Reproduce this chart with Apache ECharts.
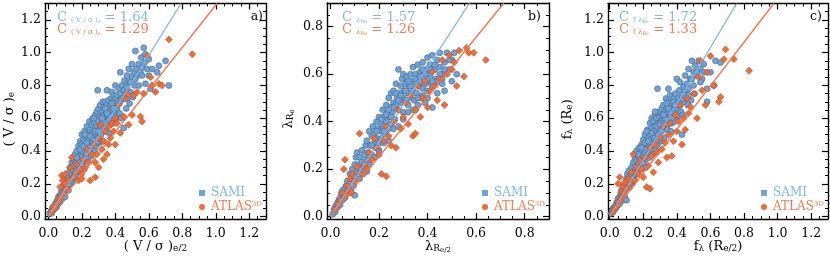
<!DOCTYPE html>
<html><head><meta charset="utf-8">
<script src="https://cdn.jsdelivr.net/npm/echarts@6/dist/echarts.min.js"></script>
<style>html,body{margin:0;padding:0;background:#fff}#c{width:830px;height:258px}</style>
</head><body><div id="c"></div>
<script>
// ---------- DATA ----------
const samiA = [[0.01,0.02],[0.015,0.03],[0.02,0.04],[0.02,0.02],[0.025,0.05],[0.03,0.04],[0.03,0.06],[0.035,0.05],[0.04,0.07],[0.04,0.05],[0.045,0.08],[0.05,0.06],[0.05,0.09],[0.055,0.1],[0.06,0.08],[0.06,0.12],[0.065,0.1],[0.07,0.13],[0.07,0.09],[0.075,0.14],[0.08,0.12],[0.08,0.16],[0.085,0.11],[0.09,0.15],[0.09,0.19],[0.095,0.13],[0.1,0.17],[0.1,0.22],[0.1,0.12],[0.105,0.2],
[0.11,0.18],[0.11,0.25],[0.115,0.21],[0.12,0.16],[0.12,0.24],[0.125,0.27],[0.13,0.2],[0.13,0.3],[0.135,0.23],[0.14,0.26],[0.14,0.33],[0.145,0.21],[0.15,0.28],[0.15,0.35],[0.15,0.24],
[0.155,0.31],[0.16,0.26],[0.16,0.38],[0.165,0.33],[0.17,0.29],[0.17,0.4],[0.175,0.35],[0.18,0.31],[0.18,0.43],[0.185,0.37],[0.19,0.33],[0.19,0.46],[0.195,0.39],[0.2,0.36],[0.2,0.44],[0.2,0.5],
[0.205,0.41],[0.21,0.34],[0.21,0.47],[0.215,0.52],[0.22,0.39],[0.22,0.44],[0.225,0.49],[0.23,0.36],[0.23,0.55],[0.235,0.42],[0.24,0.47],[0.24,0.51],[0.245,0.58],[0.25,0.4],[0.25,0.45],[0.25,0.53],
[0.255,0.49],[0.26,0.56],[0.26,0.43],[0.265,0.6],[0.27,0.47],[0.27,0.52],[0.275,0.57],[0.28,0.44],[0.28,0.62],[0.285,0.5],[0.29,0.55],[0.29,0.64],[0.295,0.77],[0.3,0.48],[0.3,0.58],[0.3,0.66],
[0.305,0.53],[0.31,0.61],[0.31,0.68],[0.315,0.5],[0.32,0.57],[0.32,0.64],[0.325,0.7],[0.33,0.55],[0.33,0.62],[0.335,0.67],[0.34,0.6],[0.34,0.7],[0.345,0.64],[0.35,0.58],[0.35,0.68],[0.35,0.77],
[0.355,0.62],[0.36,0.66],[0.36,0.71],[0.365,0.6],[0.37,0.68],[0.37,0.64],[0.375,0.72],[0.38,0.66],[0.38,0.76],[0.385,0.7],[0.39,0.62],[0.39,0.74],[0.395,0.68],[0.4,0.72],[0.4,0.8],[0.4,0.65],
[0.41,0.74],[0.415,0.7],[0.42,0.78],[0.43,0.75],[0.43,0.88],[0.44,0.72],[0.44,0.8],[0.45,0.77],[0.45,0.54],[0.455,0.83],[0.46,0.75],[0.47,0.79],[0.47,0.86],[0.48,0.82],[0.48,0.9],[0.49,0.76],[0.5,0.85],[0.5,0.93],
[0.51,0.88],[0.515,0.8],[0.52,1.01],[0.525,0.9],[0.53,0.86],[0.54,0.93],[0.55,0.88],[0.555,0.97],[0.56,0.91],[0.57,1.03],[0.575,0.94],[0.58,0.99],[0.59,0.9],[0.6,0.96],[0.6,0.86],[0.62,0.9],[0.65,0.88],[0.66,0.92],[0.7,0.95],[0.72,0.8],[0.58,0.81],[0.61,0.78],
[0.125,0.2],[0.135,0.22],[0.165,0.25],[0.185,0.28],[0.205,0.31],[0.215,0.29],[0.235,0.35],[0.255,0.37],[0.275,0.4],[0.285,0.43],[0.305,0.45],[0.325,0.46],[0.345,0.52],[0.365,0.51],[0.385,0.57],[0.405,0.6],[0.425,0.63],[0.435,0.6],[0.465,0.66],[0.485,0.69],[0.505,0.73],[0.2,0.4],[0.22,0.5],[0.24,0.43],[0.26,0.5],[0.27,0.6],[0.29,0.45],[0.31,0.55],[0.33,0.58],[0.34,0.66],[0.36,0.62],[0.37,0.56],[0.38,0.69],[0.41,0.66],[0.43,0.7],[0.45,0.72],[0.47,0.72],[0.49,0.82],[0.52,0.84],[0.54,0.8],[0.56,0.86],[0.17,0.36],[0.19,0.41],[0.21,0.43],[0.23,0.45],[0.25,0.49],[0.28,0.52],[0.3,0.52],[0.32,0.6],[0.35,0.63],[0.39,0.66]];
const atlasA = [[0.02,0.03],[0.03,0.06],[0.04,0.05],[0.05,0.08],[0.06,0.11],[0.065,0.09],[0.07,0.18],[0.075,0.12],[0.08,0.25],[0.085,0.22],[0.09,0.14],[0.1,0.2],[0.1,0.26],[0.11,0.17],[0.12,0.22],[0.13,0.3],[0.14,0.36],[0.15,0.24],[0.16,0.27],[0.17,0.32],[0.18,0.22],[0.19,0.29],[0.2,0.26],[0.2,0.23],[0.21,0.35],[0.22,0.3],[0.23,0.41],[0.24,0.33],[0.25,0.22],[0.26,0.38],[0.27,0.44],[0.28,0.33],[0.28,0.24],[0.29,0.38],[0.3,0.48],[0.3,0.3],[0.31,0.56],[0.32,0.41],[0.33,0.46],[0.33,0.35],[0.34,0.52],[0.35,0.38],[0.36,0.55],[0.36,0.44],[0.37,0.48],[0.38,0.57],[0.39,0.52],[0.4,0.44],[0.4,0.6],[0.41,0.57],[0.42,0.68],[0.43,0.51],[0.45,0.61],[0.46,0.72],[0.47,0.75],[0.48,0.56],[0.5,0.62],[0.51,0.74],[0.53,0.76],[0.55,0.61],[0.56,0.58],[0.57,0.75],[0.59,0.98],[0.61,0.85],[0.62,0.8],[0.64,0.76],[0.66,0.81],[0.68,0.8],[0.72,1.08],[0.86,0.99]];

const samiB = [[0.01,0.01],[0.015,0.03],[0.02,0.04],[0.02,0.02],[0.025,0.05],[0.03,0.04],[0.03,0.06],[0.035,0.07],[0.04,0.05],[0.04,0.08],[0.045,0.1],[0.05,0.07],[0.05,0.11],[0.055,0.09],[0.06,0.12],[0.06,0.08],[0.065,0.13],[0.07,0.1],[0.07,0.15],[0.075,0.12],[0.08,0.14],[0.08,0.18],[0.085,0.11],[0.09,0.16],[0.09,0.2],[0.095,0.13],[0.1,0.09],[0.1,0.17],[0.1,0.22],[0.105,0.25],
[0.11,0.19],[0.11,0.27],[0.115,0.22],[0.12,0.16],[0.12,0.25],[0.125,0.2],[0.13,0.23],[0.13,0.28],[0.135,0.18],[0.14,0.26],[0.14,0.21],[0.145,0.3],[0.15,0.24],[0.15,0.19],[0.15,0.32],
[0.155,0.27],[0.16,0.22],[0.16,0.36],[0.165,0.3],[0.17,0.34],[0.17,0.26],[0.175,0.38],[0.18,0.31],[0.18,0.35],[0.185,0.29],[0.19,0.4],[0.19,0.33],[0.195,0.37],[0.2,0.31],[0.2,0.42],[0.2,0.28],
[0.205,0.36],[0.21,0.39],[0.21,0.33],[0.215,0.45],[0.22,0.38],[0.22,0.42],[0.225,0.35],[0.23,0.47],[0.23,0.4],[0.235,0.44],[0.24,0.37],[0.24,0.5],[0.245,0.42],[0.25,0.46],[0.25,0.52],[0.25,0.39],
[0.255,0.44],[0.26,0.48],[0.26,0.53],[0.265,0.41],[0.27,0.47],[0.27,0.56],[0.275,0.5],[0.28,0.45],[0.28,0.62],[0.285,0.52],[0.29,0.48],[0.29,0.55],[0.295,0.58],[0.3,0.5],[0.3,0.44],[0.3,0.6],
[0.305,0.53],[0.31,0.56],[0.31,0.49],[0.315,0.59],[0.32,0.52],[0.32,0.47],[0.325,0.55],[0.33,0.6],[0.33,0.5],[0.335,0.57],[0.34,0.53],[0.34,0.63],[0.345,0.49],[0.35,0.56],[0.35,0.6],[0.35,0.45],
[0.355,0.52],[0.36,0.58],[0.36,0.64],[0.365,0.55],[0.37,0.5],[0.37,0.61],[0.375,0.57],[0.38,0.54],[0.38,0.65],[0.385,0.6],[0.39,0.56],[0.39,0.48],[0.395,0.62],[0.4,0.58],[0.4,0.67],[0.4,0.53],
[0.41,0.6],[0.41,0.64],[0.415,0.56],[0.42,0.68],[0.42,0.46],[0.43,0.62],[0.43,0.58],[0.44,0.66],[0.44,0.52],[0.45,0.63],[0.45,0.69],[0.46,0.6],[0.46,0.56],[0.47,0.65],[0.47,0.53],[0.48,0.69],[0.49,0.62],[0.5,0.66],[0.5,0.57],[0.51,0.69],[0.52,0.6],
[0.12,0.18],[0.14,0.19],[0.16,0.24],[0.18,0.25],[0.2,0.27],[0.22,0.31],[0.24,0.32],[0.26,0.37],[0.28,0.38],[0.3,0.41],[0.32,0.44],[0.34,0.45],[0.36,0.47],[0.38,0.51],[0.4,0.5],[0.42,0.55],[0.44,0.57],[0.46,0.58],[0.17,0.3],[0.19,0.36],[0.21,0.41],[0.23,0.43],[0.25,0.42],[0.27,0.52],[0.29,0.51],[0.31,0.53],[0.33,0.55],[0.35,0.58],[0.37,0.59],[0.39,0.6],[0.41,0.62],[0.43,0.64],[0.45,0.6],[0.47,0.62],[0.49,0.66],[0.26,0.46],[0.28,0.49],[0.24,0.45],[0.22,0.36],[0.32,0.57],[0.36,0.5],[0.38,0.62],[0.42,0.57]];
const atlasB = [[0.02,0.03],[0.03,0.05],[0.04,0.07],[0.05,0.1],[0.055,0.2],[0.06,0.24],[0.065,0.09],[0.07,0.13],[0.075,0.11],[0.08,0.16],[0.085,0.1],[0.09,0.18],[0.1,0.15],[0.11,0.21],[0.12,0.35],[0.13,0.18],[0.14,0.22],[0.15,0.2],[0.16,0.27],[0.17,0.24],[0.18,0.33],[0.19,0.29],[0.2,0.26],[0.21,0.18],[0.22,0.32],[0.23,0.17],[0.23,0.38],[0.24,0.34],[0.25,0.3],[0.26,0.4],[0.27,0.29],[0.28,0.45],[0.29,0.37],[0.3,0.42],[0.31,0.48],[0.32,0.39],[0.33,0.51],[0.34,0.34],[0.35,0.35],[0.35,0.45],[0.36,0.55],[0.37,0.42],[0.38,0.5],[0.39,0.57],[0.4,0.46],[0.41,0.53],[0.42,0.61],[0.43,0.55],[0.44,0.49],[0.45,0.58],[0.46,0.66],[0.47,0.47],[0.48,0.6],[0.49,0.68],[0.5,0.62],[0.51,0.65],[0.52,0.55],[0.53,0.7],[0.55,0.59],[0.56,0.71],[0.57,0.69],[0.59,0.69],[0.64,0.66]];

const samiC = [[0.01,0.02],[0.015,0.03],[0.02,0.03],[0.02,0.05],[0.025,0.04],[0.03,0.06],[0.035,0.05],[0.04,0.08],[0.04,0.06],[0.045,0.09],[0.05,0.07],[0.05,0.11],[0.055,0.09],[0.06,0.12],[0.06,0.08],[0.065,0.14],[0.07,0.11],[0.07,0.16],[0.075,0.13],[0.08,0.1],[0.08,0.18],[0.085,0.15],[0.09,0.2],[0.09,0.12],[0.095,0.17],[0.1,0.23],[0.1,0.1],[0.1,0.19],[0.105,0.26],[0.11,0.21],
[0.115,0.28],[0.12,0.18],[0.12,0.25],[0.125,0.22],[0.13,0.3],[0.13,0.26],[0.135,0.2],[0.14,0.33],[0.14,0.27],[0.145,0.23],[0.15,0.3],[0.15,0.36],[0.155,0.26],
[0.16,0.34],[0.16,0.4],[0.165,0.29],[0.17,0.37],[0.17,0.32],[0.175,0.42],[0.18,0.35],[0.18,0.3],[0.185,0.39],[0.19,0.44],[0.19,0.34],[0.195,0.4],[0.2,0.37],[0.2,0.47],[0.2,0.32],
[0.205,0.43],[0.21,0.39],[0.21,0.5],[0.215,0.35],[0.22,0.45],[0.22,0.41],[0.225,0.53],[0.23,0.38],[0.23,0.48],[0.235,0.44],[0.24,0.57],[0.24,0.5],[0.245,0.41],[0.25,0.47],[0.25,0.54],[0.25,0.6],
[0.255,0.44],[0.26,0.51],[0.26,0.58],[0.265,0.48],[0.27,0.55],[0.27,0.62],[0.275,0.46],[0.28,0.53],[0.28,0.6],[0.285,0.78],[0.29,0.5],[0.29,0.57],[0.295,0.64],[0.3,0.54],[0.3,0.61],[0.3,0.47],
[0.305,0.58],[0.31,0.66],[0.31,0.52],[0.315,0.62],[0.32,0.57],[0.32,0.68],[0.325,0.6],[0.33,0.55],[0.33,0.64],[0.335,0.72],[0.34,0.6],[0.34,0.66],[0.345,0.56],[0.35,0.63],[0.35,0.7],[0.35,0.78],
[0.355,0.6],[0.36,0.67],[0.36,0.74],[0.365,0.62],[0.37,0.69],[0.37,0.57],[0.375,0.65],[0.38,0.72],[0.38,0.61],[0.385,0.68],[0.39,0.75],[0.39,0.63],[0.395,0.7],[0.4,0.66],[0.4,0.84],[0.4,0.59],
[0.41,0.72],[0.415,0.77],[0.42,0.68],[0.42,0.82],[0.43,0.74],[0.43,0.5],[0.44,0.79],[0.44,0.7],[0.45,0.86],[0.45,0.76],[0.46,0.81],[0.46,0.72],[0.47,0.9],[0.47,0.78],[0.48,0.84],[0.49,0.95],[0.5,0.88],[0.5,0.8],
[0.51,0.92],[0.52,0.86],[0.53,0.95],[0.54,0.9],[0.55,0.84],[0.56,0.93],[0.58,0.78],[0.6,0.88],[0.62,0.8],[0.63,0.95],[0.66,0.94],[0.58,0.7],
[0.125,0.21],[0.135,0.23],[0.165,0.26],[0.185,0.29],[0.205,0.32],[0.215,0.3],[0.235,0.36],[0.255,0.38],[0.275,0.41],[0.285,0.44],[0.305,0.46],[0.325,0.48],[0.345,0.53],[0.365,0.52],[0.385,0.58],[0.405,0.62],[0.425,0.64],[0.435,0.62],[0.465,0.68],[0.485,0.71],[0.505,0.75],[0.21,0.41],[0.22,0.52],[0.24,0.45],[0.26,0.52],[0.27,0.64],[0.29,0.47],[0.31,0.57],[0.33,0.6],[0.34,0.69],[0.36,0.64],[0.37,0.6],[0.38,0.7],[0.41,0.68],[0.43,0.72],[0.45,0.74],[0.47,0.74],[0.49,0.84],[0.52,0.88],[0.54,0.82],[0.56,0.88],[0.17,0.38],[0.19,0.42],[0.21,0.45],[0.23,0.46],[0.25,0.51],[0.28,0.55],[0.3,0.56],[0.32,0.62],[0.35,0.66],[0.39,0.68]];
const atlasC = [[0.02,0.03],[0.03,0.05],[0.04,0.06],[0.05,0.09],[0.05,0.2],[0.06,0.24],[0.065,0.1],[0.07,0.15],[0.075,0.12],[0.08,0.18],[0.085,0.14],[0.09,0.21],[0.1,0.17],[0.11,0.23],[0.12,0.2],[0.13,0.27],[0.14,0.38],[0.15,0.22],[0.16,0.3],[0.17,0.26],[0.18,0.34],[0.19,0.29],[0.2,0.24],[0.21,0.36],[0.22,0.18],[0.23,0.31],[0.24,0.17],[0.24,0.42],[0.25,0.37],[0.26,0.27],[0.27,0.44],[0.28,0.39],[0.29,0.33],[0.3,0.48],[0.31,0.41],[0.32,0.55],[0.33,0.45],[0.34,0.36],[0.35,0.5],[0.36,0.57],[0.37,0.37],[0.38,0.46],[0.39,0.62],[0.4,0.52],[0.41,0.58],[0.42,0.68],[0.43,0.44],[0.44,0.6],[0.45,0.53],[0.46,0.72],[0.47,0.63],[0.48,0.67],[0.5,0.75],[0.52,0.6],[0.53,0.85],[0.54,0.95],[0.55,0.77],[0.57,0.68],[0.58,0.88],[0.6,0.98],[0.62,0.8],[0.65,0.7],[0.66,0.73],[0.68,0.96],[0.69,1.02],[0.74,0.96],[0.83,0.89]];

const slopesSami = [1.64, 1.57, 1.72];
const slopesAtlas = [1.29, 1.26, 1.33];
const ticks13 = [0, 0.2, 0.4, 0.6, 0.8, 1.0, 1.2];
const ticks09 = [0, 0.2, 0.4, 0.6, 0.8];
const panelLabels = ['a)', 'b)', 'c)'];

// ---------- STYLE / LAYOUT ----------
const FONT = 'DejaVu Serif';
const BLUE = '#6fa3d6', BLUE_EDGE = '#4a6788', BLUE_LINE = '#7db4e6', BLUE_TXT = '#7eb6e6';
const ORANGE = '#f26a36', ORANGE_EDGE = '#9a4a2a', ORANGE_LINE = '#f47040', ORANGE_TXT = '#f27a4c';

const panels = [
  {grid:{left:45, top:3.5, width:221, height:215.5}, x:[-0.02,1.3], y:[-0.015,1.3], xt:ticks13, yt:ticks13,
   sami:samiA, atlas:atlasA,
   xname:'( V / σ ){sub|e/2}', yname:'( V / σ ){sub|e}', ynameX:10,
   ann:['C {s|( V / σ )}{ss|e} = 1.64','C {s|( V / σ )}{ss|e} = 1.29'], annX:57, labX:263},
  {grid:{left:327, top:3, width:222, height:216}, x:[-0.014,0.9], y:[-0.01,0.9], xt:ticks09, yt:ticks09,
   sami:samiB, atlas:atlasB,
   xname:'λ{sub|R}{ss|e/2}', yname:'λ{sub|R}{ss|e}', ynameX:289,
   ann:['C {s|λ}{ss|Re} = 1.57','C {s|λ}{ss|Re} = 1.26'], annX:342, labX:541},
  {grid:{left:608, top:3.5, width:220, height:215.5}, x:[-0.01,1.3], y:[-0.015,1.3], xt:ticks13, yt:ticks13,
   sami:samiC, atlas:atlasC,
   xname:'f{sub|λ} (R{sub|e/2})', yname:'f{sub|λ} (R{sub|e})', ynameX:568,
   ann:['C {s|f λ}{ss|Re} = 1.72','C {s|f λ}{ss|Re} = 1.33'], annX:619, labX:822}
];

function minorsOf(min, max, step) {
  const out = [];
  for (let v = Math.ceil(min / step - 1e-9) * step; v <= max + 1e-9; v += step) out.push(Math.round(v * 1000) / 1000);
  return out;
}

const richName = {
  sub: {fontFamily: FONT, fontSize: 9, lineHeight: 9, padding: [11, 0, 0, 0], verticalAlign: 'bottom', fill: '#000', color: '#000'},
  ss: {fontFamily: FONT, fontSize: 7, lineHeight: 7, padding: [15, 0, 0, 0], verticalAlign: 'bottom', fill: '#000', color: '#000'}
};

const xAxes = [], yAxes = [], grids = [], series = [], graphics = [], legends = [];

panels.forEach((p, pi) => {
  const gMain = grids.length;
  grids.push(Object.assign({containLabel: false, outerBoundsMode: 'none'}, p.grid));
  const gMinor = grids.length;
  grids.push(Object.assign({containLabel: false, outerBoundsMode: 'none'}, p.grid));
  const xMin = minorsOf(p.x[0], p.x[1], 0.05), yMin = minorsOf(p.y[0], p.y[1], 0.05);
  const base = (gi, dimRange, pos) => ({
    type: 'value', gridIndex: gi, position: pos, offset: 0, min: dimRange[0], max: dimRange[1],
    splitLine: {show: false}, axisPointer: {show: false}
  });
  const majorTick = vals => ({show: true, inside: true, length: 6, customValues: vals, lineStyle: {color: '#000', width: 1.2}});
  const minorTick = vals => ({show: true, inside: true, length: 3, customValues: vals, lineStyle: {color: '#000', width: 1}});
  const frameLine = {show: true, onZero: false, lineStyle: {color: '#000', width: 1.4}};

  const xIdx = xAxes.length;
  xAxes.push(Object.assign(base(gMain, p.x, 'bottom'), {
    axisLine: frameLine, axisTick: majorTick(p.xt),
    axisLabel: {show: true, customValues: p.xt, formatter: v => v.toFixed(1), fontFamily: FONT, fontSize: 12.5, color: '#000', margin: 8}
  }));
  xAxes.push(Object.assign(base(gMain, p.x, 'top'), {axisLine: frameLine, axisTick: majorTick(p.xt), axisLabel: {show: false}}));
  xAxes.push(Object.assign(base(gMinor, p.x, 'bottom'), {axisLine: {show: false, onZero: false}, axisTick: minorTick(xMin), axisLabel: {show: false}}));
  xAxes.push(Object.assign(base(gMinor, p.x, 'top'), {axisLine: {show: false, onZero: false}, axisTick: minorTick(xMin), axisLabel: {show: false}}));

  const yIdx = yAxes.length;
  yAxes.push(Object.assign(base(gMain, p.y, 'left'), {
    axisLine: frameLine, axisTick: majorTick(p.yt),
    axisLabel: {show: true, customValues: p.yt, formatter: v => v.toFixed(1), fontFamily: FONT, fontSize: 12.5, color: '#000', margin: 4}
  }));
  yAxes.push(Object.assign(base(gMain, p.y, 'right'), {axisLine: frameLine, axisTick: majorTick(p.yt), axisLabel: {show: false}}));
  yAxes.push(Object.assign(base(gMinor, p.y, 'left'), {axisLine: {show: false, onZero: false}, axisTick: minorTick(yMin), axisLabel: {show: false}}));
  yAxes.push(Object.assign(base(gMinor, p.y, 'right'), {axisLine: {show: false, onZero: false}, axisTick: minorTick(yMin), axisLabel: {show: false}}));

  series.push({type: 'scatter', name: 'SAMI', xAxisIndex: xIdx, yAxisIndex: yIdx, data: p.sami, symbol: 'circle', symbolSize: 6,
    itemStyle: {color: BLUE, borderColor: BLUE_EDGE, borderWidth: 0.6, opacity: 1}, z: 2, silent: true});
  series.push({type: 'scatter', name: 'ATLAS3D', xAxisIndex: xIdx, yAxisIndex: yIdx, data: p.atlas, symbol: 'diamond', symbolSize: 7,
    itemStyle: {color: ORANGE, borderColor: ORANGE_EDGE, borderWidth: 0.5, opacity: 1}, z: 3, silent: true});
  const ytop = p.y[1];
  series.push({type: 'line', name: 'fitS' + pi, xAxisIndex: xIdx, yAxisIndex: yIdx, data: [[0, 0], [ytop / slopesSami[pi], ytop]],
    symbol: 'none', lineStyle: {color: BLUE_LINE, width: 1.3}, z: 4, silent: true});
  series.push({type: 'line', name: 'fitA' + pi, xAxisIndex: xIdx, yAxisIndex: yIdx, data: [[0, 0], [ytop / slopesAtlas[pi], ytop]],
    symbol: 'none', lineStyle: {color: ORANGE_LINE, width: 1.3}, z: 4, silent: true});

  // axis titles
  const cx = p.grid.left + p.grid.width / 2, cy = p.grid.top + p.grid.height / 2;
  graphics.push({type: 'text', x: cx, y: 247, z: 10, style: {text: p.xname, fill: '#000', font: '13px "' + FONT + '"', align: 'center', verticalAlign: 'middle', rich: richName}});
  graphics.push({type: 'text', x: p.ynameX, y: cy + 8, rotation: Math.PI / 2, z: 10, style: {text: p.yname, fill: '#000', font: '13px "' + FONT + '"', align: 'center', verticalAlign: 'middle', rich: richName}});

  const annRich = {
    s: {fontFamily: FONT, fontSize: 7, lineHeight: 7, padding: [6, 0, 0, 0], verticalAlign: 'bottom'},
    ss: {fontFamily: FONT, fontSize: 5, lineHeight: 5, padding: [8, 0, 0, 0], verticalAlign: 'bottom'}
  };
  graphics.push({type: 'text', left: p.annX, top: 11, z: 10, style: {text: p.ann[0], fill: BLUE_TXT, font: '13px "' + FONT + '"', rich: annRich}});
  graphics.push({type: 'text', left: p.annX, top: 23, z: 10, style: {text: p.ann[1], fill: ORANGE_TXT, font: '13px "' + FONT + '"', rich: annRich}});
  graphics.push({type: 'text', right: 830 - p.labX, top: 10, z: 10, style: {text: panelLabels[pi], fill: '#000', font: '12.5px "' + FONT + '"'}});

  legends.push({
    orient: 'vertical', left: p.grid.left + p.grid.width - 72, top: 182, itemWidth: 6, itemHeight: 6, itemGap: 2,
    selectedMode: false, icon: 'rect',
    data: [
      {name: 'SAMI', icon: 'rect', itemStyle: {borderWidth: 0, color: BLUE}, textStyle: {color: BLUE_TXT}},
      {name: 'ATLAS3D', icon: 'circle', itemStyle: {borderWidth: 0, color: ORANGE}, textStyle: {color: ORANGE_TXT}}
    ],
    formatter: n => n === 'ATLAS3D' ? 'ATLAS{sup|3D}' : n,
    textStyle: {fontFamily: FONT, fontSize: 12, padding: [0, 0, 0, 1],
      rich: {sup: {fontFamily: FONT, fontSize: 7, lineHeight: 7, padding: [0, 0, 7, 0], verticalAlign: 'top', color: ORANGE_TXT}}}
  });
});

const chart = echarts.init(document.getElementById('c'), null, {renderer: 'canvas'});
chart.setOption({
  animation: false,
  backgroundColor: '#fff',
  grid: grids, xAxis: xAxes, yAxis: yAxes, series: series, legend: legends, graphic: graphics
});
</script>
</body></html>
